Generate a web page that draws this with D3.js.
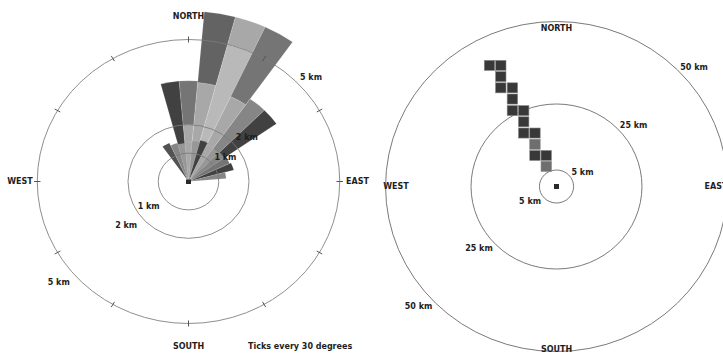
<!DOCTYPE html>
<html>
<head>
<meta charset="utf-8">
<script src="https://cdn.jsdelivr.net/npm/d3@7/dist/d3.min.js"></script>
<style>
  html, body { margin: 0; padding: 0; background: #fff; }
  svg { display: block; }
  text { font-family: "DejaVu Sans", sans-serif; font-weight: bold; font-size: 8px; fill: #1e1e1e; }
</style>
</head>
<body>
<script>
// ---- Left panel: sector rose (km) ----
const leftRingsKm = [1, 2, 5];
const tickEveryDeg = 30;

// Outer sector cells: direction (deg), range bin start/end (km), count
const petalDir   = [-10, 0,   0,    10,  10,  20,  20,  30,  30,  40,   50];
const petalFrom  = [0,   0,   2.0,  0,   3.5, 0,   5.0, 0,   3.3, 0,    0];
const petalTo    = [3.55, 2.0, 3.55, 3.5, 6.0, 5.0, 6.0, 3.3, 6.0, 3.55, 3.55];
const petalCount = [8,   2,   5,    2,   6,   1,   2,   2,   5,   4,    8];

// Near-field sectors (within ~1.5 km)
const fanDir   = [-30, -20, -10, 0,    10,   20,  30,   40,  50,   60,  70,   80];
const fanTo    = [1.5, 1.4, 1.35, 1.4, 1.45, 1.5, 1.45, 1.4, 1.45, 1.5, 1.55, 1.25];
const fanCount = [7,   4,   3,   2,    3,    8,   2,    3,   4,    5,   8,    4];

const compassNames = ["NORTH", "EAST", "SOUTH", "WEST"];

// ---- Right panel: gridded cells (km east / north of origin) ----
const rightRingsKm = [5, 25, 50];
const cellKm = 3.35;
const cellEast  = [-19.6, -16.3, -16.3, -16.3, -12.9, -12.9, -12.9, -9.6, -9.6, -9.6, -6.3, -6.3, -6.3, -3.0, -3.0];
const cellNorth = [36.7,  36.7,  33.3,  29.9,  29.9,  26.5,  23.0,  23.0, 19.6, 16.2, 16.2, 12.8, 9.4,  9.4,  6.1];
const cellCount = [3,     3,     3,     3,     3,     3,     3,     3,    3,    3,    3,    2,    3,    3,    2];

const W = 723, H = 354;
const svg = d3.select("body").append("svg").attr("width", W).attr("height", H);
svg.append("rect").attr("width", W).attr("height", H).attr("fill", "#fff");

const rad = d => d * Math.PI / 180;

// ================= Left panel =================
const L = { cx: 188.5, cy: 181.5, sx: 1.065 };
const rL = d3.scaleLinear().domain([0, 5]).range([0, 142]);
const shadeL = d3.scaleLinear().domain([1, 9]).range(["#b9b9b9", "#303030"]);

const gL = svg.append("g").attr("transform", `translate(${L.cx},${L.cy}) scale(${L.sx},1)`);
const arc = d3.arc();

const petals = petalDir.map((d, i) => ({ dir: d, from: petalFrom[i], to: petalTo[i], n: petalCount[i] }));
gL.selectAll("path.petal").data(petals).join("path")
  .attr("class", "petal")
  .attr("d", p => arc({ innerRadius: rL(p.from), outerRadius: rL(p.to),
                        startAngle: rad(p.dir - 5), endAngle: rad(p.dir + 5) }))
  .attr("fill", p => shadeL(p.n))
  .attr("stroke", "#ffffff").attr("stroke-opacity", 0.25).attr("stroke-width", 0.6)
  .attr("vector-effect", "non-scaling-stroke");

const fan = fanDir.map((d, i) => ({ dir: d, to: fanTo[i], n: fanCount[i] }));
gL.selectAll("path.fan").data(fan).join("path")
  .attr("class", "fan")
  .attr("d", p => arc({ innerRadius: 0, outerRadius: rL(p.to),
                        startAngle: rad(p.dir - 5), endAngle: rad(p.dir + 5) }))
  .attr("fill", p => shadeL(p.n))
  .attr("stroke", "#ffffff").attr("stroke-opacity", 0.2).attr("stroke-width", 0.5)
  .attr("vector-effect", "non-scaling-stroke");

// range rings
gL.selectAll("circle.ring").data(leftRingsKm).join("circle")
  .attr("class", "ring").attr("r", d => rL(d))
  .attr("fill", "none").attr("stroke", "#7a7a7a").attr("stroke-opacity", 0.85).attr("stroke-width", 1)
  .attr("vector-effect", "non-scaling-stroke");

// direction ticks on the outer ring
const outerL = d3.max(leftRingsKm);
gL.selectAll("line.tick").data(d3.range(0, 360, tickEveryDeg)).join("line")
  .attr("class", "tick")
  .attr("x1", d => Math.sin(rad(d)) * (rL(outerL) - 3))
  .attr("y1", d => -Math.cos(rad(d)) * (rL(outerL) - 3))
  .attr("x2", d => Math.sin(rad(d)) * (rL(outerL) + 3))
  .attr("y2", d => -Math.cos(rad(d)) * (rL(outerL) + 3))
  .attr("stroke", "#555").attr("stroke-width", 1)
  .attr("vector-effect", "non-scaling-stroke");

// origin marker
gL.append("rect").attr("x", -2.5 / L.sx).attr("y", -2).attr("width", 5 / L.sx).attr("height", 4.5).attr("fill", "#2a2a2a");

// ring labels: north-east side and south-west side
function ringPoint(c, sx, r, deg, pad) {
  const R = r + pad;
  return [c.cx + Math.sin(rad(deg)) * R * sx, c.cy - Math.cos(rad(deg)) * R];
}
leftRingsKm.forEach(k => {
  const ne = ringPoint(L, L.sx, rL(k), 45, 6);
  svg.append("text").attr("x", ne[0]).attr("y", ne[1]).attr("dy", "0.35em")
    .attr("text-anchor", "start").text(`${k} km`);
  const sw = ringPoint(L, L.sx, rL(k), 228, 8);
  svg.append("text").attr("x", sw[0]).attr("y", sw[1]).attr("dy", "0.35em")
    .attr("text-anchor", "end").text(`${k} km`);
});

// compass labels
const compL = [[0, -165.5], [169, 0], [0, 165], [-168.5, 0]];
compassNames.forEach((name, i) => {
  svg.append("text").attr("x", L.cx + compL[i][0]).attr("y", L.cy + compL[i][1])
    .attr("dy", "0.35em").attr("text-anchor", "middle").text(name);
});
svg.append("text").attr("x", 248).attr("y", 349).text("Ticks every " + tickEveryDeg + " degrees");

// ================= Right panel =================
const R = { cx: 556.5, cy: 186.5 };
const kyR = 3.3, kxR = 3.3 * 1.036;
const xR = d3.scaleLinear().domain([-50, 50]).range([R.cx - 50 * kxR, R.cx + 50 * kxR]);
const yR = d3.scaleLinear().domain([-50, 50]).range([R.cy + 50 * kyR, R.cy - 50 * kyR]);
const shadeR = d3.scaleLinear().domain([1, 3]).range(["#a4a4a4", "#383838"]);

svg.selectAll("ellipse.ringR").data(rightRingsKm).join("ellipse")
  .attr("class", "ringR")
  .attr("cx", xR(0)).attr("cy", yR(0))
  .attr("rx", d => xR(d) - xR(0)).attr("ry", d => yR(0) - yR(d))
  .attr("fill", "none").attr("stroke", "#7a7a7a").attr("stroke-width", 1);

const cells = cellEast.map((e, i) => ({ e, n: cellNorth[i], c: cellCount[i] }));
svg.selectAll("rect.cell").data(cells).join("rect")
  .attr("class", "cell")
  .attr("x", d => xR(d.e - cellKm / 2) + 0.5)
  .attr("y", d => yR(d.n + cellKm / 2) + 0.5)
  .attr("width", d => xR(d.e + cellKm / 2) - xR(d.e - cellKm / 2) - 1)
  .attr("height", d => yR(d.n - cellKm / 2) - yR(d.n + cellKm / 2) - 1)
  .attr("fill", d => shadeR(d.c))
  .attr("stroke", "#8a8a8a").attr("stroke-width", 0.6);

svg.append("rect").attr("x", xR(0) - 2.5).attr("y", yR(0) - 2.5).attr("width", 5).attr("height", 5).attr("fill", "#2a2a2a");

rightRingsKm.forEach(k => {
  const rx = xR(k) - xR(0), ry = yR(0) - yR(k);
  const sxr = rx / ry;
  const ne = ringPoint(R, sxr, ry, 45, 4);
  svg.append("text").attr("x", ne[0]).attr("y", ne[1]).attr("dy", "0.35em")
    .attr("text-anchor", "start").text(`${k} km`);
  const sw = ringPoint(R, sxr, ry, 225, 4.5);
  svg.append("text").attr("x", sw[0]).attr("y", sw[1]).attr("dy", "0.35em")
    .attr("text-anchor", "end").text(`${k} km`);
});

const compR = [[0, -158.5], [159.5, 0], [0, 163], [-160.5, 0]];
compassNames.forEach((name, i) => {
  svg.append("text").attr("x", R.cx + compR[i][0]).attr("y", R.cy + compR[i][1])
    .attr("dy", "0.35em").attr("text-anchor", "middle").text(name);
});
</script>
</body>
</html>
